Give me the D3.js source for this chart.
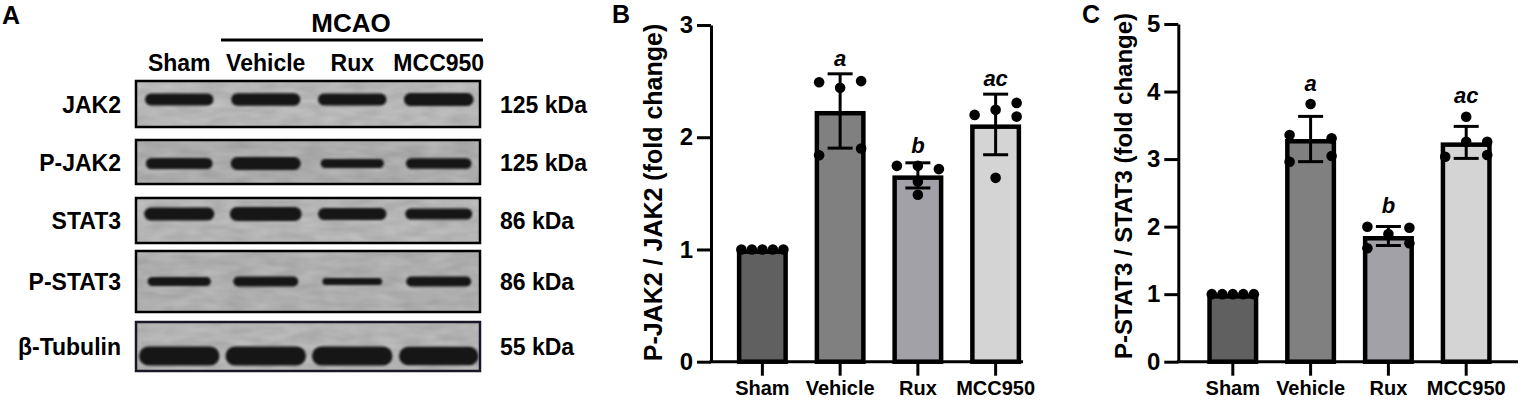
<!DOCTYPE html>
<html>
<head>
<meta charset="utf-8">
<script src="https://cdn.jsdelivr.net/npm/d3@7"></script>
<style>
  body { margin: 0; background: #fff; }
  text { font-family: "Liberation Sans", Arial, sans-serif; font-weight: bold; fill: #000; }
</style>
</head>
<body>
<div id="chart"></div>
<script>
// groups shared by every panel
var groups = ["Sham", "Vehicle", "Rux", "MCC950"];
var barColors = ["#606060", "#808080", "#a1a1a7", "#d4d4d4"];

// panel B : P-JAK2 / JAK2 (fold change)
var jakMean = [1.0, 2.234, 1.660, 2.114];
var jakSD = [0, 0.331, 0.112, 0.270];
var jakPoints = [
  [1, 1, 1, 1, 1],
  [2.49, 2.44, 2.50, 1.84, 1.90],
  [1.745, 1.745, 1.716, 1.606, 1.487],
  [2.199, 2.244, 2.306, 2.184, 1.638]
];
var jakJitter = [[-2, -1, 0, 1, 2], [-2, 0, 2, -2, 2], [-2, 0, 2, 0, 0], [-2, 0, 2, 2, 0]];
var jakLetters = ["", "a", "b", "ac"];
var jakTicks = [0, 1, 2, 3];

// panel C : P-STAT3 / STAT3 (fold change)
var statMean = [1.0, 3.297, 1.861, 3.247];
var statSD = [0, 0.335, 0.141, 0.237];
var statPoints = [
  [1, 1, 1, 1, 1],
  [3.815, 3.357, 3.307, 2.961, 3.046],
  [1.999, 1.891, 1.984, 1.679, 1.753],
  [3.627, 3.257, 3.035, 3.257, 3.06]
];
var statJitter = [[-2, -1, 0, 1, 2], [0, -2, 2, -2, 2], [-2, 0, 2, -2, 2], [0, 0, -2, 2, 2]];
var statLetters = ["", "a", "b", "ac"];
var statTicks = [0, 1, 2, 3, 4, 5];

// panel A : western blot, relative band density per lane
var blotRows = ["JAK2", "P-JAK2", "STAT3", "P-STAT3", "β-Tubulin"];
var blotKDa = ["125 kDa", "125 kDa", "86 kDa", "86 kDa", "55 kDa"];
var jak2Band = [0.60, 0.62, 0.60, 0.64];
var pJak2Band = [0.55, 0.65, 0.45, 0.52];
var stat3Band = [0.65, 0.70, 0.60, 0.56];
var pStat3Band = [0.45, 0.50, 0.35, 0.50];
var tubulinBand = [0.95, 0.95, 0.95, 0.92];
var bandRows = [jak2Band, pJak2Band, stat3Band, pStat3Band, tubulinBand];

var svg = d3.select("#chart").append("svg")
  .attr("width", 1520)
  .attr("height", 400);

var defs = svg.append("defs");
defs.append("filter").attr("id", "soft")
  .attr("x", "-20%").attr("y", "-60%").attr("width", "140%").attr("height", "220%")
  .append("feGaussianBlur").attr("stdDeviation", 1.3);

// faint membrane texture
var grain = defs.append("filter").attr("id", "grain").attr("x", 0).attr("y", 0).attr("width", "100%").attr("height", "100%");
grain.append("feTurbulence").attr("type", "fractalNoise").attr("baseFrequency", "0.04 0.12").attr("numOctaves", 2).attr("seed", 7).attr("result", "n");
grain.append("feColorMatrix").attr("in", "n").attr("type", "matrix")
  .attr("values", "0 0 0 0 0  0 0 0 0 0  0 0 0 0 0  0 0 0 0.16 0").attr("result", "a");
grain.append("feComposite").attr("in", "a").attr("in2", "SourceGraphic").attr("operator", "in");

// ---------- panel A ----------
// box layout of each blot strip
var rowTop = [81, 140, 198, 251, 322],
    rowH = [46, 44, 45, 61, 49],
    rowShift = [-4.5, 1.5, -6.5, 0, 9.5],
    rowBg = ["#c6c6c6", "#bababa", "#c4c4c4", "#bdbdbd", "#c2c2c2"];

var lane = d3.scaleBand().domain(groups).range([136, 482]);
var bandThick = d3.scaleLinear().domain([0, 1]).range([0, 20]);
var bandWide = d3.scaleLinear().domain([0, 1]).range([0.55 * lane.bandwidth(), 0.95 * lane.bandwidth()]);

var gA = svg.append("g");
gA.append("text").attr("x", 2).attr("y", 24).style("font-size", "25px").text("A");
gA.append("text").attr("x", 351).attr("y", 31.5).attr("text-anchor", "middle")
  .style("font-size", "26px").text("MCAO");
gA.append("line").attr("x1", 221).attr("x2", 483).attr("y1", 40).attr("y2", 40)
  .attr("stroke", "#000").attr("stroke-width", 3);
gA.selectAll(".lane-label").data(groups).enter().append("text")
  .attr("x", function(d) { return lane(d) + lane.bandwidth() / 2; })
  .attr("y", 70.5)
  .attr("text-anchor", "middle")
  .style("font-size", "23px")
  .text(function(d) { return d; });

blotRows.forEach(function(name, r) {
  var g = gA.append("g");
  var cy = rowTop[r] + rowH[r] / 2;
  g.append("rect")
    .attr("x", 136).attr("y", rowTop[r])
    .attr("width", 344).attr("height", rowH[r])
    .attr("fill", rowBg[r]);
  g.append("rect")
    .attr("x", 136).attr("y", rowTop[r])
    .attr("width", 344).attr("height", rowH[r])
    .attr("fill", "#000").attr("filter", "url(#grain)");
  g.selectAll(".band").data(bandRows[r]).enter().append("rect")
    .attr("x", function(d, i) { return lane(groups[i]) + lane.bandwidth() / 2 - bandWide(d) / 2; })
    .attr("y", function(d) { return cy + rowShift[r] - bandThick(d) / 2; })
    .attr("width", function(d) { return bandWide(d); })
    .attr("height", function(d) { return bandThick(d); })
    .attr("rx", function(d) { return bandThick(d) / 2; })
    .attr("fill", "#141414")
    .attr("filter", "url(#soft)");
  g.append("rect")
    .attr("x", 136).attr("y", rowTop[r])
    .attr("width", 344).attr("height", rowH[r])
    .attr("fill", "none").attr("stroke", r === 4 ? "#181828" : "#000").attr("stroke-width", 2.5);
  g.append("text").attr("x", 121).attr("y", cy + 8.5)
    .attr("text-anchor", "end").style("font-size", "23px").text(name);
  g.append("text").attr("x", 500).attr("y", cy + 8.5)
    .style("font-size", "23px").text(blotKDa[r]);
});

// ---------- bar panels ----------
function drawPanel(opt) {
  var g = svg.append("g");
  var y = d3.scaleLinear().domain([0, opt.ticks[opt.ticks.length - 1]]).range([361.7, opt.top]);
  var x = d3.scaleBand().domain(groups).range(opt.xRange).paddingInner(0.344).paddingOuter(0.172);
  var bw = x.bandwidth(), sw = 4.5, r = 5.3, spread = 10.5;

  g.append("text").attr("x", opt.labelX).attr("y", 23).style("font-size", "25px").text(opt.label);

  // bars (border drawn inside the bar outline)
  g.selectAll(".bar").data(opt.mean).enter().append("rect")
    .attr("x", function(d, i) { return x(groups[i]) + sw / 2; })
    .attr("y", function(d) { return y(d) + sw / 2; })
    .attr("width", bw - sw)
    .attr("height", function(d) { return y(0) - y(d) - sw / 2; })
    .attr("fill", function(d, i) { return barColors[i]; })
    .attr("stroke", "#000")
    .attr("stroke-width", sw);

  // error bars (mean ± SD)
  opt.mean.forEach(function(m, i) {
    if (!opt.sd[i]) return;
    var cx = x(groups[i]) + bw / 2;
    var eg = g.append("g").attr("stroke", "#000").attr("stroke-width", 3);
    eg.append("line").attr("x1", cx).attr("x2", cx)
      .attr("y1", y(m - opt.sd[i])).attr("y2", y(m + opt.sd[i]));
    [m - opt.sd[i], m + opt.sd[i]].forEach(function(v) {
      eg.append("line").attr("x1", cx - 12.5).attr("x2", cx + 12.5)
        .attr("y1", y(v)).attr("y2", y(v));
    });
  });

  // individual points
  opt.points.forEach(function(pts, i) {
    var cx = x(groups[i]) + bw / 2;
    g.selectAll(null).data(pts).enter().append("circle")
      .attr("cx", function(d, k) { return cx + opt.jitter[i][k] * spread; })
      .attr("cy", function(d) { return y(d); })
      .attr("r", r)
      .attr("fill", "#000");
  });

  // significance letters
  opt.letters.forEach(function(t, i) {
    if (!t) return;
    var top = Math.min(y(opt.mean[i] + opt.sd[i]), y(d3.max(opt.points[i])) - r);
    g.append("text")
      .attr("x", x(groups[i]) + bw / 2)
      .attr("y", top - 8)
      .attr("text-anchor", "middle")
      .style("font-size", "22px")
      .style("font-style", "italic")
      .text(t);
  });

  // y axis
  var ya = g.append("g").attr("transform", "translate(" + opt.axisX + ",0)")
    .call(d3.axisLeft(y).tickValues(opt.ticks).tickFormat(d3.format("d"))
      .tickSize(14).tickSizeOuter(0).tickPadding(4));
  ya.select(".domain").attr("stroke-width", 3);
  ya.selectAll(".tick line").attr("stroke-width", 3);
  ya.selectAll(".tick text").style("font-size", "24px").style("font-family", "Liberation Sans, Arial")
    .style("font-weight", "bold").attr("fill", "#000");

  // x axis
  var xa = g.append("g").attr("transform", "translate(0," + y(0) + ")")
    .call(d3.axisBottom(x).tickSize(14).tickSizeOuter(0).tickPadding(5));
  xa.select(".domain").remove();
  xa.selectAll(".tick line").attr("stroke-width", 3);
  xa.selectAll(".tick text").style("font-size", "20px").style("font-family", "Liberation Sans, Arial")
    .style("font-weight", "bold").attr("fill", "#000");
  g.append("line").attr("x1", opt.axisX - 1.5).attr("x2", opt.xEnd)
    .attr("y1", y(0)).attr("y2", y(0))
    .attr("stroke", "#000").attr("stroke-width", 3);

  g.append("text")
    .attr("transform", "translate(" + opt.titleX + "," + opt.titleY + ") rotate(-90)")
    .attr("text-anchor", "middle")
    .style("font-size", opt.titleSize + "px")
    .text(opt.title);
}

drawPanel({
  label: "B", labelX: 612, axisX: 711, top: 25, xRange: [723.5, 1034.5], xEnd: 1023,
  mean: jakMean, sd: jakSD, points: jakPoints, jitter: jakJitter, letters: jakLetters, ticks: jakTicks,
  title: "P-JAK2 / JAK2 (fold change)", titleX: 662, titleY: 192.5, titleSize: 25
});

drawPanel({
  label: "C", labelX: 1082, axisX: 1178.3, top: 24, xRange: [1193.9, 1505.1], xEnd: 1518,
  mean: statMean, sd: statSD, points: statPoints, jitter: statJitter, letters: statLetters, ticks: statTicks,
  title: "P-STAT3 / STAT3 (fold change)", titleX: 1131.7, titleY: 186, titleSize: 24
});
</script>
</body>
</html>
